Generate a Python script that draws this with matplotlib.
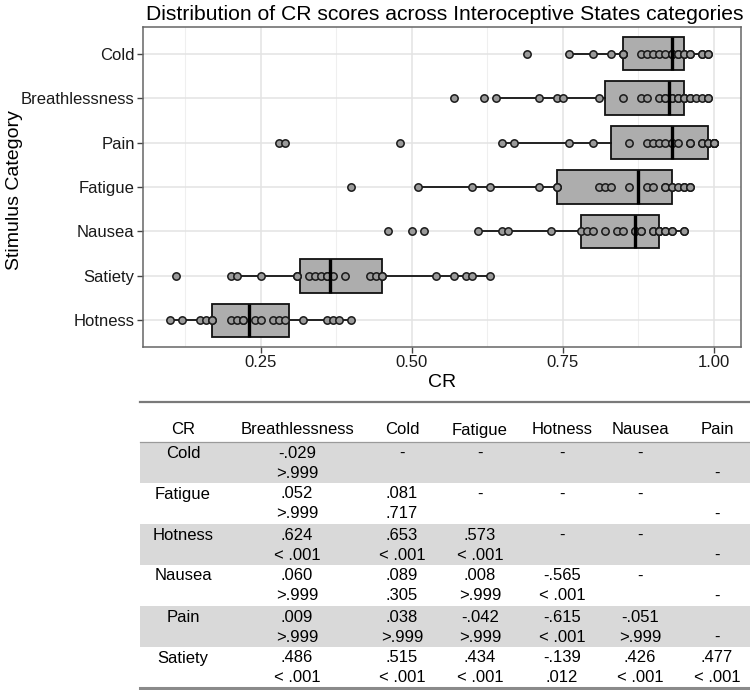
import matplotlib
matplotlib.use("Agg")
import matplotlib.pyplot as plt
from matplotlib.patches import Rectangle
import numpy as np

plt.rcParams['font.family'] = ['Liberation Sans', 'DejaVu Sans']

# CR scores per stimulus category
cold = [0.69, 0.76, 0.80, 0.83, 0.85, 0.85, 0.85, 0.88, 0.89, 0.90, 0.91, 0.92, 0.93,
        0.93, 0.93, 0.94, 0.94, 0.95, 0.95, 0.96, 0.96, 0.98, 0.98, 0.99, 0.99]
breathlessness = [0.57, 0.62, 0.64, 0.71, 0.74, 0.75, 0.81, 0.85, 0.88, 0.89, 0.91, 0.92, 0.92,
                  0.93, 0.93, 0.94, 0.94, 0.95, 0.95, 0.95, 0.96, 0.96, 0.97, 0.98, 0.99, 0.99]
pain = [0.28, 0.29, 0.48, 0.65, 0.67, 0.76, 0.80, 0.86, 0.89, 0.90, 0.91, 0.92, 0.93, 0.93,
        0.94, 0.96, 0.96, 0.98, 0.98, 0.99, 0.99, 0.99, 1.00, 1.00, 1.00, 1.00, 1.00]
fatigue = [0.40, 0.51, 0.60, 0.63, 0.71, 0.74, 0.74, 0.81, 0.82, 0.83, 0.86, 0.89,
           0.90, 0.92, 0.92, 0.93, 0.93, 0.94, 0.95, 0.95, 0.96, 0.96]
nausea = [0.46, 0.50, 0.52, 0.61, 0.65, 0.66, 0.73, 0.78, 0.79, 0.80, 0.82, 0.84, 0.85, 0.87,
          0.87, 0.88, 0.88, 0.90, 0.90, 0.91, 0.91, 0.91, 0.91, 0.92, 0.92, 0.93, 0.93, 0.95, 0.95]
satiety = [0.11, 0.20, 0.21, 0.25, 0.31, 0.31, 0.33, 0.34, 0.35, 0.36, 0.36,
           0.37, 0.39, 0.43, 0.44, 0.45, 0.45, 0.54, 0.57, 0.59, 0.60, 0.63]
hotness = [0.10, 0.12, 0.15, 0.16, 0.17, 0.17, 0.20, 0.21, 0.22, 0.22,
           0.24, 0.25, 0.27, 0.28, 0.29, 0.32, 0.36, 0.37, 0.38, 0.40]

# bottom to top
categories = ["Hotness", "Satiety", "Nausea", "Fatigue", "Pain", "Breathlessness", "Cold"]
scores = [hotness, satiety, nausea, fatigue, pain, breathlessness, cold]

# comparison table: r on first line, p on second
tbl_cols = ["CR", "Breathlessness", "Cold", "Fatigue", "Hotness", "Nausea", "Pain"]
tbl_rows = ["Cold", "Fatigue", "Hotness", "Nausea", "Pain", "Satiety"]
cold_r = ["-.029", "-", "-", "-", "-", ""]
cold_p = [">.999", "", "", "", "", "-"]
fatigue_r = [".052", ".081", "-", "-", "-", ""]
fatigue_p = [">.999", ".717", "", "", "", "-"]
hotness_r = [".624", ".653", ".573", "-", "-", ""]
hotness_p = ["< .001", "< .001", "< .001", "", "", "-"]
nausea_r = [".060", ".089", ".008", "-.565", "-", ""]
nausea_p = [">.999", ".305", ">.999", "< .001", "", "-"]
pain_r = [".009", ".038", "-.042", "-.615", "-.051", ""]
pain_p = [">.999", ">.999", ">.999", "< .001", ">.999", "-"]
satiety_r = [".486", ".515", ".434", "-.139", ".426", ".477"]
satiety_p = ["< .001", "< .001", "< .001", ".012", "< .001", "< .001"]
r_lines = [cold_r, fatigue_r, hotness_r, nausea_r, pain_r, satiety_r]
p_lines = [cold_p, fatigue_p, hotness_p, nausea_p, pain_p, satiety_p]

W, H = 750, 690
fig = plt.figure(figsize=(7.5, 6.9), dpi=100)
ax = fig.add_axes([143 / W, 1 - 347 / H, 598 / W, 320 / H])

pos = np.arange(1, len(categories) + 1)
ax.boxplot(scores, positions=pos, vert=False, widths=0.75, patch_artist=True,
           showfliers=False, showcaps=False, whis=1.5,
           boxprops=dict(facecolor="#adadad", edgecolor="#111111", linewidth=1.3),
           whiskerprops=dict(color="#111111", linewidth=1.3),
           medianprops=dict(color="#000000", linewidth=2.4, zorder=5),
           zorder=2)
for p, vals in zip(pos, scores):
    ax.scatter(vals, [p] * len(vals), s=28, facecolor="#9a9a9a", edgecolor="#1a1a1a",
               linewidth=1.1, zorder=4)

ax.set_xlim(0.055, 1.045)
ax.set_ylim(0.4, 7.6)
ax.set_xticks([0.25, 0.50, 0.75, 1.00])
ax.set_xticklabels(["0.25", "0.50", "0.75", "1.00"])
ax.set_xticks([0.125, 0.375, 0.625, 0.875], minor=True)
ax.set_yticks(pos)
ax.set_yticklabels(categories)
ax.grid(which="major", color="#e3e3e3", linewidth=1.1, zorder=0)
ax.grid(which="minor", axis="x", color="#efefef", linewidth=0.8, zorder=0)
ax.set_axisbelow(True)
ax.tick_params(which="major", length=4, color="#444444", width=1, labelsize=12,
               labelcolor="#1a1a1a", pad=2)
ax.tick_params(which="minor", length=0)
for s in ax.spines.values():
    s.set_color("#666666")
    s.set_linewidth(1.1)

ax.set_title("Distribution of CR scores across Interoceptive States categories",
             loc="left", fontsize=15.2, pad=5, x=0.005)
ax.set_xlabel("CR", fontsize=14)
ax.xaxis.set_label_coords(0.5, -0.083)
ax.set_ylabel("Stimulus Category", fontsize=14)
ax.yaxis.set_label_coords(-0.2, 0.49)

# table drawn in pixel space
tab = fig.add_axes([0, 0, 1, 1])
tab.set_xlim(0, W)
tab.set_ylim(H, 0)
tab.axis("off")

col_x = [183, 297, 402, 480, 562, 640, 717]
row_top0, row_h = 442, 41
fs = 12
for i, name in enumerate(tbl_rows):
    top = row_top0 + i * row_h
    if i % 2 == 0:
        tab.add_patch(Rectangle((140, top), W - 140, row_h, facecolor="#d9d9d9",
                                edgecolor="none", zorder=0))
    tab.text(col_x[0], top + 11, name, ha="center", va="center", fontsize=fs)
    for j in range(6):
        tab.text(col_x[j + 1], top + 11, r_lines[i][j], ha="center", va="center", fontsize=fs)
        tab.text(col_x[j + 1], top + 31, p_lines[i][j], ha="center", va="center", fontsize=fs)

for j, c in enumerate(tbl_cols):
    tab.text(col_x[j], 430, c, ha="center", va="center", fontsize=fs)

tab.plot([140, W], [402, 402], color="#7a7a7a", linewidth=1.6)
tab.plot([140, W], [441.5, 441.5], color="#9a9a9a", linewidth=0.9)
tab.plot([140, W], [688, 688], color="#8a8a8a", linewidth=2.2)

fig.savefig("out.png", dpi=100)
